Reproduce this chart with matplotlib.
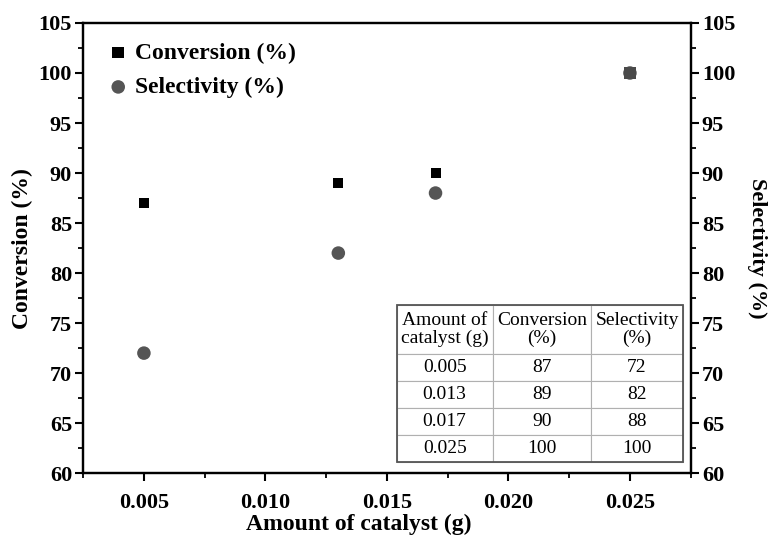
import matplotlib
matplotlib.use("Agg")
import matplotlib.pyplot as plt
from matplotlib.patches import Rectangle

catalyst = [0.005, 0.013, 0.017, 0.025]
conversion = [87, 89, 90, 100]
selectivity = [72, 82, 88, 100]
catalyst_labels = ["0.005", "0.013", "0.017", "0.025"]
table_header = ["Amount of\ncatalyst (g)", "Conversion\n(%)", "Selectivity\n(%)"]
yticks = [60, 65, 70, 75, 80, 85, 90, 95, 100, 105]
xticks = [0.005, 0.010, 0.015, 0.020, 0.025]

plt.rcParams['font.family'] = ['Liberation Serif', 'DejaVu Serif']

fig = plt.figure(figsize=(7.7, 5.47), dpi=100)
ax = fig.add_axes([0.108, 0.135, 0.789, 0.823])
ax2 = ax.twinx()

overlap = [c == s for c, s in zip(conversion, selectivity)]
sq_colors = ['#4a4a4a' if o else 'black' for o in overlap]
sq_sizes = [85 if o else 52 for o in overlap]
ax.scatter(catalyst, selectivity, marker='o', s=95, color='#555555', zorder=3,
           edgecolors='none', label='Selectivity (%)')
ax.scatter(catalyst, conversion, marker='s', s=sq_sizes, c=sq_colors, zorder=4,
           edgecolors='none', label='Conversion (%)')

ax.set_xlim(0.0025, 0.0275)
ax.set_ylim(60, 105)
ax2.set_ylim(60, 105)
ax.set_xticks(xticks)
ax.set_xticklabels([f"{v:.3f}" for v in xticks])
ax.set_xticks([0.0025 + 0.005 * i for i in range(6)], minor=True)
ax.set_yticks(yticks)
ax2.set_yticks(yticks)
ax.set_yticks([62.5 + 5 * i for i in range(9)], minor=True)
ax2.set_yticks([62.5 + 5 * i for i in range(9)], minor=True)

for a in (ax, ax2):
    for sp in a.spines.values():
        sp.set_linewidth(1.6)
    a.tick_params(which='major', length=6, width=1.5, labelsize=16, direction='out')
    a.tick_params(which='minor', length=3.5, width=1.3, direction='out')
    for lab in a.get_xticklabels() + a.get_yticklabels():
        lab.set_fontweight('bold')
ax.tick_params(axis='x', pad=8)
ax.tick_params(axis='y', pad=2)
ax2.tick_params(axis='y', pad=2)

ax.set_xlabel("Amount of catalyst (g)", fontsize=17, fontweight='bold', labelpad=3)
ax.xaxis.set_label_coords(0.454, -0.09)
ax.set_ylabel("Conversion (%)", fontsize=17, fontweight='bold', labelpad=4)
ax2.set_ylabel("Selectivity (%)", fontsize=16, fontweight='bold', rotation=270, labelpad=23)

handles, labels = ax.get_legend_handles_labels()
leg = ax.legend([handles[1], handles[0]], [labels[1], labels[0]],
                loc='upper left', bbox_to_anchor=(-0.02, 1.01), frameon=False,
                prop={'weight': 'bold', 'size': 17}, handletextpad=-0.3,
                labelspacing=0.55, borderaxespad=0.6)

cell_text = [[lab, str(c), str(s)] for lab, c, s in zip(catalyst_labels, conversion, selectivity)]
tbl = ax2.table(cellText=cell_text, colLabels=table_header, cellLoc='center',
                bbox=[0.516, 0.024, 0.471, 0.349], zorder=5)
tbl.auto_set_font_size(False)
tbl.set_fontsize(14)
total = 0.349
hdr = total * 0.31
rest = (total - hdr) / len(cell_text)
for (r, c), cell in tbl.get_celld().items():
    cell.set_edgecolor('#b0b0b0')
    cell.set_linewidth(0.8)
    cell.set_facecolor('white')
    cell.set_height(hdr if r == 0 else rest)
    cell.get_text().set_linespacing(1.0)
tbl.auto_set_column_width([0, 1, 2])

ax2.add_patch(Rectangle((0.516, 0.024), 0.471, 0.349, transform=ax2.transAxes,
                        fill=False, edgecolor='#555555', linewidth=1.3, zorder=6))

fig.savefig("out.png", dpi=100)
